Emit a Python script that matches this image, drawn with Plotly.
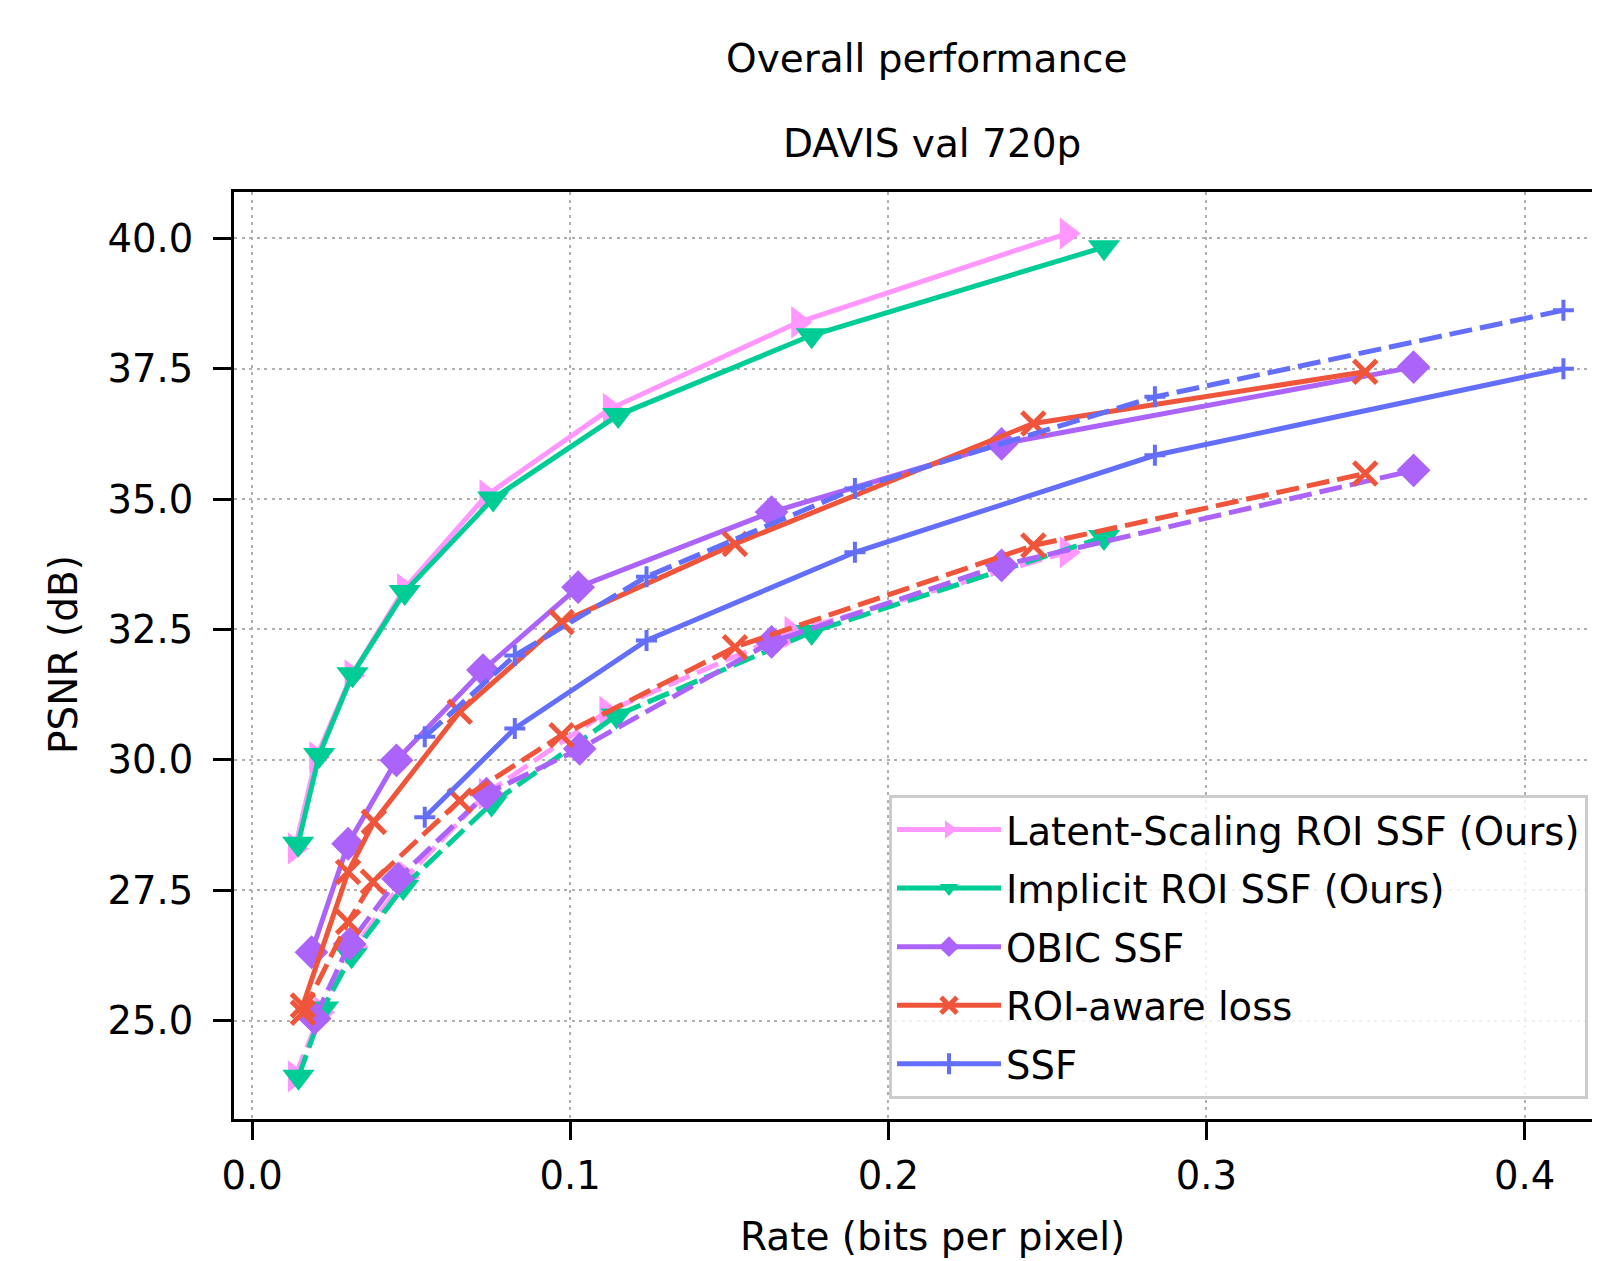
import plotly.graph_objects as go

# ---------------- data ----------------
latent_rate_solid = [0.0135, 0.0202, 0.0313, 0.0478, 0.0737, 0.1125, 0.1717, 0.2561]
latent_psnr_solid = [28.30, 30.05, 31.62, 33.27, 35.07, 36.73, 38.39, 40.09]
latent_rate_dash = [0.0135, 0.0218, 0.0323, 0.0485, 0.0735, 0.1114, 0.1696, 0.2561]
latent_psnr_dash = [23.93, 25.16, 26.41, 27.75, 29.35, 30.92, 32.45, 33.98]

implicit_rate_solid = [0.0145, 0.0211, 0.0316, 0.0480, 0.0758, 0.1151, 0.1759, 0.2678]
implicit_psnr_solid = [28.39, 30.09, 31.64, 33.22, 35.01, 36.61, 38.14, 39.83]
implicit_rate_dash = [0.0146, 0.0223, 0.0313, 0.0475, 0.0753, 0.1146, 0.1759, 0.2678]
implicit_psnr_dash = [23.92, 25.23, 26.25, 27.56, 29.16, 30.85, 32.45, 34.27]

obic_rate_solid = [0.0187, 0.0302, 0.0454, 0.0726, 0.1025, 0.1633, 0.2356, 0.3651]
obic_psnr_solid = [26.31, 28.39, 29.99, 31.72, 33.31, 34.75, 36.06, 37.53]
obic_rate_dash = [0.0197, 0.0307, 0.0459, 0.0737, 0.1030, 0.1633, 0.2356, 0.3651]
obic_psnr_dash = [25.04, 26.47, 27.72, 29.35, 30.21, 32.26, 33.73, 35.55]

roi_rate_solid = [0.0160, 0.0302, 0.0383, 0.0653, 0.0973, 0.1518, 0.2456, 0.3499]
roi_psnr_solid = [25.29, 27.85, 28.81, 30.92, 32.64, 34.14, 36.45, 37.44]
roi_rate_dash = [0.0160, 0.0302, 0.0380, 0.0653, 0.0973, 0.1518, 0.2456, 0.3499]
roi_psnr_dash = [25.15, 26.89, 27.66, 29.22, 30.47, 32.16, 34.11, 35.49]

ssf_rate_solid = [0.0543, 0.0826, 0.1240, 0.1895, 0.2838, 0.4122]
ssf_psnr_solid = [28.90, 30.60, 32.29, 33.98, 35.84, 37.50]
ssf_rate_dash = [0.0543, 0.0826, 0.1240, 0.1895, 0.2838, 0.4122]
ssf_psnr_dash = [30.44, 32.00, 33.51, 35.20, 36.96, 38.62]

series_names = ["Latent-Scaling ROI SSF (Ours)", "Implicit ROI SSF (Ours)",
                "OBIC SSF", "ROI-aware loss", "SSF"]
x_tick_vals = [0.0, 0.1, 0.2, 0.3, 0.4]
x_tick_text = ["0.0", "0.1", "0.2", "0.3", "0.4"]
y_tick_vals = [25.0, 27.5, 30.0, 32.5, 35.0, 37.5, 40.0]
y_tick_text = ["25.0", "27.5", "30.0", "32.5", "35.0", "37.5", "40.0"]

# ---------------- styles ----------------
FONT = "DejaVu Sans"
LW = 5
DASH = "23px,8px"
styles = [
    dict(color="#FF97FF", symbol="triangle-right", size=28, mline=0),
    dict(color="#00CC96", symbol="triangle-down", size=28, mline=0),
    dict(color="#AB63FA", symbol="diamond", size=26, mline=0),
    dict(color="#EF553B", symbol="x-thin", size=23, mline=5),
    dict(color="#636EFA", symbol="cross-thin", size=15, mline=4),
]
solid_data = [
    (latent_rate_solid, latent_psnr_solid),
    (implicit_rate_solid, implicit_psnr_solid),
    (obic_rate_solid, obic_psnr_solid),
    (roi_rate_solid, roi_psnr_solid),
    (ssf_rate_solid, ssf_psnr_solid),
]
dash_data = [
    (latent_rate_dash, latent_psnr_dash),
    (implicit_rate_dash, implicit_psnr_dash),
    (obic_rate_dash, obic_psnr_dash),
    (roi_rate_dash, roi_psnr_dash),
    (ssf_rate_dash, ssf_psnr_dash),
]

fig = go.Figure()
for i, name in enumerate(series_names):
    st = styles[i]
    marker = dict(symbol=st["symbol"], size=st["size"], color=st["color"],
                  line=dict(width=st["mline"], color=st["color"]))
    xs, ys = solid_data[i]
    fig.add_trace(go.Scatter(x=xs, y=ys, mode="lines+markers", name=name,
                             legendgroup=name, showlegend=True,
                             line=dict(color=st["color"], width=LW),
                             marker=marker))
    xd, yd = dash_data[i]
    fig.add_trace(go.Scatter(x=xd, y=yd, mode="lines+markers", name=name,
                             legendgroup=name, showlegend=False,
                             line=dict(color=st["color"], width=LW, dash=DASH),
                             marker=marker))

# page has an 8 px body margin, so the figure is placed 8 px in from the corner
OFF = 8
W, H = 1600 - OFF, 1261 - OFF
L, T = 234 - OFF, 192 - OFF
BOTTOM = 1119 - OFF
B = H - BOTTOM
PW = W - L
PH = H - T - B


def px_x(px):
    return (px - OFF - L) / PW


def px_y(py):
    return (BOTTOM - (py - OFF)) / PH


axis_common = dict(
    showline=True, linewidth=3.3, linecolor="black",
    ticks="outside", ticklen=18, tickwidth=3, tickcolor="black",
    showgrid=True, gridcolor="#b0b0b0", gridwidth=2.2, griddash="3px,4.5px",
    zeroline=False,
    tickfont=dict(family=FONT, size=38.5, color="black"),
)

fig.update_xaxes(range=[-0.00566, 0.4237], tickvals=x_tick_vals, ticktext=x_tick_text,
                 mirror=True, ticklabelstandoff=3, **axis_common)
fig.update_yaxes(range=[23.112, 40.888], tickvals=y_tick_vals, ticktext=y_tick_text,
                 mirror=False, ticklabelstandoff=12, **axis_common)

ann_font = dict(family=FONT, size=39, color="black")
fig.add_annotation(text="Overall performance", xref="paper", yref="paper",
                   x=px_x(927), y=px_y(59), showarrow=False, font=ann_font,
                   xanchor="center", yanchor="middle")
fig.add_annotation(text="DAVIS val 720p", xref="paper", yref="paper",
                   x=px_x(932), y=px_y(144), showarrow=False, font=ann_font,
                   xanchor="center", yanchor="middle")
fig.add_annotation(text="Rate (bits per pixel)", xref="paper", yref="paper",
                   x=px_x(932), y=px_y(1236), showarrow=False, font=ann_font,
                   xanchor="center", yanchor="middle")
fig.add_annotation(text="PSNR (dB)", xref="paper", yref="paper",
                   x=px_x(63), y=px_y(655), showarrow=False, font=ann_font,
                   textangle=-90, xanchor="center", yanchor="middle")

fig.update_layout(
    width=W, height=H, autosize=False,
    margin=dict(l=L, r=0, t=T, b=B, pad=0),
    paper_bgcolor="white", plot_bgcolor="white",
    font=dict(family=FONT, size=38, color="black"),
    legend=dict(x=px_x(889), y=px_y(795), xanchor="left", yanchor="top",
                bgcolor="rgba(255,255,255,0.8)", bordercolor="#cccccc",
                borderwidth=3, font=dict(family=FONT, size=38.5, color="black"),
                tracegroupgap=5.5, itemwidth=104, traceorder="grouped"),
)

fig.write_html("out.html")
